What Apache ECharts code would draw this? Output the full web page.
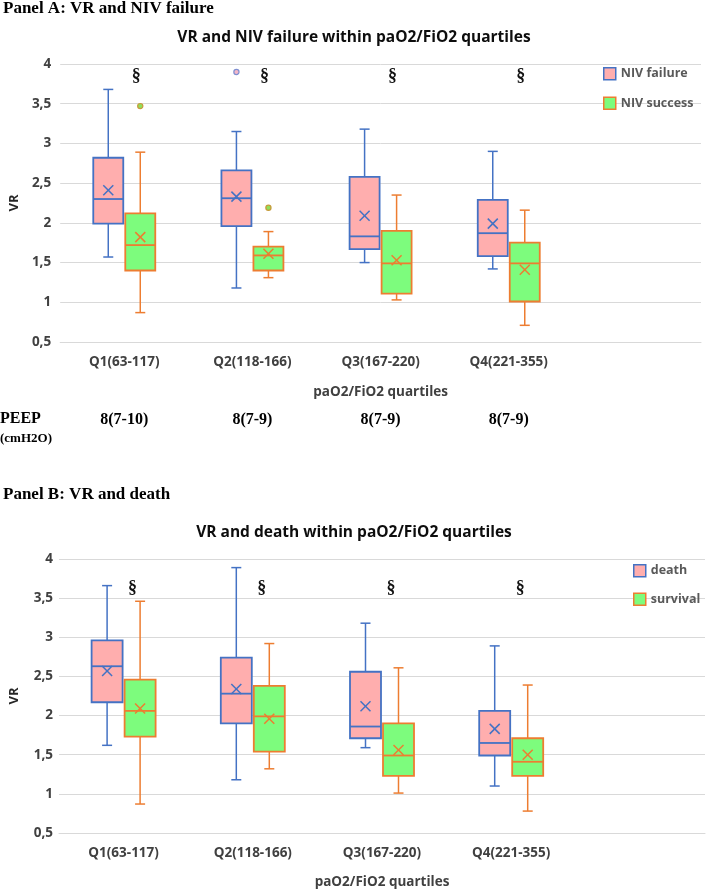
<!DOCTYPE html>
<html>
<head>
<meta charset="utf-8">
<script src="https://cdn.jsdelivr.net/npm/echarts@6/dist/echarts.min.js"></script>
<style>
html,body{margin:0;padding:0;background:#fff;}
#chart{width:708px;height:890px;}
</style>
</head>
<body>
<div id="chart"></div>
<script>
// ---------- data ----------
const categories = ['Q1(63-117)', 'Q2(118-166)', 'Q3(167-220)', 'Q4(221-355)', ''];
const peepLabels = ['8(7-10)', '8(7-9)', '8(7-9)', '8(7-9)', ''];
const yTicks = [0.5, 1, 1.5, 2, 2.5, 3, 3.5, 4];

// Panel A: [min, Q1, median, Q3, max]
const nivFailureBox = [
  [1.57, 1.99, 2.30, 2.82, 3.68],
  [1.18, 1.96, 2.31, 2.66, 3.15],
  [1.50, 1.67, 1.83, 2.58, 3.18],
  [1.42, 1.58, 1.87, 2.29, 2.90]
];
const nivFailureMean = [2.41, 2.33, 2.09, 1.99];
const nivFailureOutliers = [[1, 3.90]];

const nivSuccessBox = [
  [0.87, 1.40, 1.72, 2.12, 2.89],
  [1.31, 1.40, 1.59, 1.70, 1.89],
  [1.03, 1.11, 1.49, 1.90, 2.35],
  [0.71, 1.01, 1.49, 1.75, 2.16]
];
const nivSuccessMean = [1.82, 1.61, 1.53, 1.41];
const nivSuccessOutliers = [[0, 3.47], [1, 2.19]];

const sigA = [[0, 3.84], [1, 3.84], [2, 3.84], [3, 3.84]];

// Panel B
const deathBox = [
  [1.62, 2.17, 2.63, 2.96, 3.66],
  [1.18, 1.90, 2.28, 2.74, 3.89],
  [1.59, 1.71, 1.86, 2.56, 3.18],
  [1.10, 1.49, 1.65, 2.06, 2.89]
];
const deathMean = [2.57, 2.34, 2.12, 1.83];

const survivalBox = [
  [0.87, 1.73, 2.06, 2.46, 3.46],
  [1.32, 1.54, 1.99, 2.38, 2.92],
  [1.01, 1.23, 1.49, 1.90, 2.61],
  [0.78, 1.23, 1.41, 1.71, 2.39]
];
const survivalMean = [2.09, 1.96, 1.56, 1.50];

const sigB = [[0, 3.63], [1, 3.63], [2, 3.63], [3, 3.63]];

// ---------- styles ----------
const PINK = '#ffaeae', BLUE = '#4472c4', GREEN = '#7dfc7d', ORANGE = '#ed7d31';
const SANS = '"Open Sans"';
const SERIF = 'Liberation Serif';

function boxSeries(name, boxes, means, side, off, half, fill, stroke, xi, yi) {
  return {
    name: name, type: 'custom', xAxisIndex: xi, yAxisIndex: yi,
    itemStyle: { color: fill, borderColor: stroke, borderWidth: 1.5 },
    data: boxes.map((b, i) => [i, b[0], b[1], b[2], b[3], b[4], means[i]]),
    encode: { x: 0, y: [1, 2, 3, 4, 5, 6] },
    renderItem: function (params, api) {
      const i = api.value(0);
      const p = v => api.coord([i, v]);
      const x = p(api.value(3))[0] + side * off;
      const yMin = p(api.value(1))[1], yQ1 = p(api.value(2))[1], yMed = p(api.value(3))[1];
      const yQ3 = p(api.value(4))[1], yMax = p(api.value(5))[1], yMean = p(api.value(6))[1];
      const ls = { stroke: stroke, lineWidth: 1.5, fill: null };
      const cap = 5, m = 5;
      return { type: 'group', children: [
        { type: 'line', shape: { x1: x, y1: yMax, x2: x, y2: yQ3 }, style: ls },
        { type: 'line', shape: { x1: x, y1: yQ1, x2: x, y2: yMin }, style: ls },
        { type: 'line', shape: { x1: x - cap, y1: yMax, x2: x + cap, y2: yMax }, style: ls },
        { type: 'line', shape: { x1: x - cap, y1: yMin, x2: x + cap, y2: yMin }, style: ls },
        { type: 'rect', shape: { x: x - half, y: yQ3, width: 2 * half, height: yQ1 - yQ3 }, style: { fill: fill, stroke: stroke, lineWidth: 1.8 } },
        { type: 'line', shape: { x1: x - half, y1: yMed, x2: x + half, y2: yMed }, style: { stroke: stroke, lineWidth: 1.8 } },
        { type: 'line', shape: { x1: x - m, y1: yMean - m, x2: x + m, y2: yMean + m }, style: ls },
        { type: 'line', shape: { x1: x - m, y1: yMean + m, x2: x + m, y2: yMean - m }, style: ls }
      ]};
    }
  };
}

function outlierSeries(name, pts, side, off, fill, stroke, xi, yi) {
  return {
    name: name, type: 'custom', xAxisIndex: xi, yAxisIndex: yi,
    data: pts, encode: { x: 0, y: 1 },
    renderItem: function (params, api) {
      const c = api.coord([api.value(0), api.value(1)]);
      return { type: 'circle', shape: { cx: c[0] + side * off, cy: c[1], r: 2.6 }, style: { fill: fill, stroke: stroke, lineWidth: 1.2 } };
    }
  };
}

function sigSeries(name, pts, dx, xi, yi) {
  return {
    name: name, type: 'custom', xAxisIndex: xi, yAxisIndex: yi,
    data: pts, encode: { x: 0, y: 1 },
    renderItem: function (params, api) {
      const c = api.coord([api.value(0), api.value(1)]);
      return { type: 'text', x: c[0] + dx, y: c[1], style: { text: '§', fontFamily: SERIF, fontWeight: 'bold', fontSize: 18, fill: '#111', align: 'center', verticalAlign: 'middle' } };
    }
  };
}

const fmt = v => String(v).replace('.', ',');

function xAxisMain(gi, gap) {
  return {
    gridIndex: gi, type: 'category', data: categories,
    axisTick: { show: false },
    axisLine: { lineStyle: { color: '#d9d9d9', width: 1 } },
    axisLabel: { interval: 0, margin: 13, fontFamily: SANS, fontWeight: 'bold', fontSize: 13.5, color: '#404040' },
    name: 'paO2/FiO2 quartiles', nameLocation: 'middle', nameGap: gap,
    nameTextStyle: { fontFamily: SANS, fontWeight: 'bold', fontSize: 13.5, color: '#404040' }
  };
}
function yAxisMain(gi, margin) {
  return {
    gridIndex: gi, type: 'value', min: yTicks[0], max: yTicks[yTicks.length - 1], interval: 0.5,
    axisLine: { show: false }, axisTick: { show: false },
    splitLine: { lineStyle: { color: '#d9d9d9', width: 1 } },
    axisLabel: { formatter: fmt, margin: margin, fontFamily: SANS, fontWeight: 'bold', fontSize: 13.5, color: '#404040' },
    name: 'VR', nameLocation: 'middle', nameGap: 38, nameRotate: 90,
    nameTextStyle: { fontFamily: SANS, fontWeight: 'bold', fontSize: 13, color: '#262626' }
  };
}

const legendText = { fontFamily: SANS, fontWeight: 'bold', fontSize: 12.5, color: '#595959' };

const option = {
  animation: false,
  backgroundColor: '#fff',
  title: [
    { text: 'Panel A: VR and NIV failure', left: 3, top: 0, padding: 0,
      textStyle: { fontFamily: SERIF, fontWeight: 'bold', fontSize: 17, color: '#000' } },
    { text: 'VR and NIV failure within paO2/FiO2 quartiles', left: 'center', top: 30, padding: 0,
      textStyle: { fontFamily: SANS, fontWeight: 'bold', fontSize: 15.5, color: '#0d0d0d' } },
    { text: 'Panel B: VR and death', left: 3, top: 486, padding: 0,
      textStyle: { fontFamily: SERIF, fontWeight: 'bold', fontSize: 17, color: '#000' } },
    { text: 'VR and death within paO2/FiO2 quartiles', left: 'center', top: 525, padding: 0,
      textStyle: { fontFamily: SANS, fontWeight: 'bold', fontSize: 15.5, color: '#0d0d0d' } }
  ],
  legend: [
    { orient: 'vertical', left: 603, top: 67, padding: 0, itemWidth: 12, itemHeight: 12, itemGap: 16,
      icon: 'rect', textStyle: legendText, selectedMode: false,
      data: [
        { name: 'NIV failure', itemStyle: { color: PINK, borderColor: BLUE, borderWidth: 1.5 } },
        { name: 'NIV success', itemStyle: { color: GREEN, borderColor: ORANGE, borderWidth: 1.5 } }
      ] },
    { orient: 'vertical', left: 633, top: 564, padding: 0, itemWidth: 12, itemHeight: 12, itemGap: 15,
      icon: 'rect', textStyle: legendText, selectedMode: false,
      data: [
        { name: 'death', itemStyle: { color: PINK, borderColor: BLUE, borderWidth: 1.5 } },
        { name: 'survival', itemStyle: { color: GREEN, borderColor: ORANGE, borderWidth: 1.5 } }
      ] }
  ],
  grid: [
    { left: 59, top: 64, width: 642, height: 278 },
    { left: 56, top: 559, width: 649, height: 275 }
  ],
  xAxis: [
    xAxisMain(0, 43),
    { gridIndex: 0, type: 'category', data: peepLabels, position: 'bottom', offset: 62,
      axisLine: { show: false }, axisTick: { show: false },
      axisLabel: { interval: 0, margin: 8, fontFamily: SERIF, fontWeight: 'bold', fontSize: 16, color: '#000' } },
    xAxisMain(1, 42)
  ],
  yAxis: [ yAxisMain(0, 9), yAxisMain(1, 6) ],
  graphic: [
    { type: 'text', left: 0, top: 411, style: { text: 'PEEP', fontFamily: SERIF, fontWeight: 'bold', fontSize: 16, fill: '#000' } },
    { type: 'text', left: 0, top: 432, style: { text: '(cmH2O)', fontFamily: SERIF, fontWeight: 'bold', fontSize: 13, fill: '#000' } }
  ],
  series: [
    boxSeries('NIV failure', nivFailureBox, nivFailureMean, -1, 16, 15, PINK, BLUE, 0, 0),
    boxSeries('NIV success', nivSuccessBox, nivSuccessMean, 1, 16, 15, GREEN, ORANGE, 0, 0),
    outlierSeries('NIV failure outliers', nivFailureOutliers, -1, 16, '#f4b6c8', '#7f8fd0', 0, 0),
    outlierSeries('NIV success outliers', nivSuccessOutliers, 1, 16, '#8fe05a', '#c79a3a', 0, 0),
    sigSeries('sigA', sigA, 12, 0, 0),
    boxSeries('death', deathBox, deathMean, -1, 16.5, 15.5, PINK, BLUE, 2, 1),
    boxSeries('survival', survivalBox, survivalMean, 1, 16.5, 15.5, GREEN, ORANGE, 2, 1),
    sigSeries('sigB', sigB, 9, 2, 1)
  ]
};

const chart = echarts.init(document.getElementById('chart'), null, { renderer: 'canvas' });
chart.setOption(option);
</script>
</body>
</html>
